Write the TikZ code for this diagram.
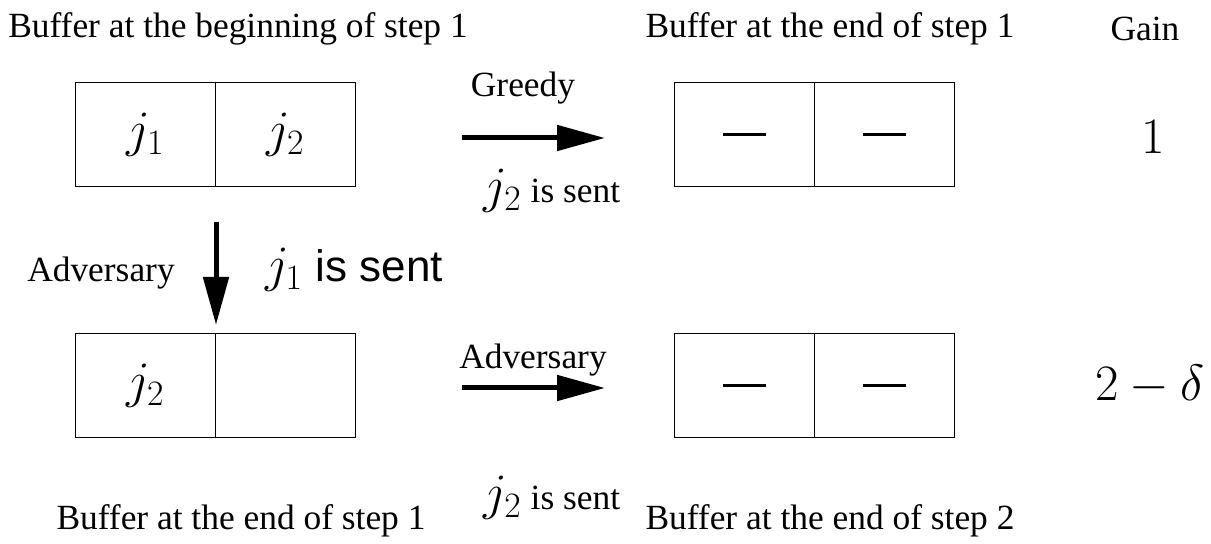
\RequirePackage{fix-cm}
\documentclass[tikz,border=0pt]{standalone}
\usepackage{fontspec}
\setmainfont{Liberation Serif}
\newfontfamily\helv{Liberation Sans}
\usetikzlibrary{arrows.meta}
\newcommand\bigmath{\fontsize{25.5pt}{28pt}\selectfont}
\newcommand\emptymark{\rule{21.5pt}{1.1pt}}
\begin{document}
\begin{tikzpicture}[x=0.5pt,y=-0.5pt,
  cell/.style={draw,line width=0.6pt,minimum width=70pt,minimum height=52pt,
    inner sep=0pt,anchor=north west,font=\bigmath},
  lbl/.style={inner sep=0pt,font=\fontsize{17.7pt}{20pt}\selectfont},
  mth/.style={inner sep=0pt,font=\bigmath},
  bigarrow/.style={line width=2.5pt,-{Triangle[length=24pt,width=12.5pt]}}]
\useasboundingbox (0,0) rectangle (1211,544);

% column headings
\node[lbl] (h1) at (238,29) {Buffer at the beginning of step 1};
\node[lbl] (h2) at (830,29) {Buffer at the end of step 1};
\node[lbl] (h3) at (1145,29) {Gain};

% buffer before step 1
\node[cell] (a1) at (75,82) {$j_1$};
\node[cell] (a2) at (215,82) {$j_2$};

% buffer after the greedy step
\node[cell] (b1) at (674,82) {\emptymark};
\node[cell] (b2) at (814,82) {\emptymark};
\node[mth] (g1) at (1153,137) {$1$};

% greedy move
\coordinate (gs) at (462,138);
\coordinate (ge) at (605,138);
\draw[bigarrow] (gs) -- (ge);
\node[lbl] (greedy) at (523,88) {Greedy};
\node[lbl] (gsent) at (552,191) {{\bigmath$j_2$} is sent};

% adversary move downwards
\coordinate (ds) at (216,222);
\coordinate (de) at (216,325);
\draw[bigarrow] (ds) -- (de);
\node[lbl] (adv1) at (101,273) {Adversary};
\node[mth] (asent) at (354,270) {$j_1$ {\helv\fontsize{22pt}{24pt}\selectfont is sent}};

% buffer after the adversary's first move
\node[cell] (c1) at (75,333) {$j_2$};
\node[cell] (c2) at (215,333) {};

% buffer after step 2
\node[cell] (d1) at (674,333) {\emptymark};
\node[cell] (d2) at (814,333) {\emptymark};
\node[mth] (g2) at (1150,385) {$2-\delta$};

% adversary move to the right
\coordinate (rs) at (462,388);
\coordinate (re) at (605,388);
\draw[bigarrow] (rs) -- (re);
\node[lbl] (adv2) at (533,360) {Adversary};
\node[lbl] (rsent) at (552,498) {{\bigmath$j_2$} is sent};

% row captions
\node[lbl] (f1) at (241,521) {Buffer at the end of step 1};
\node[lbl] (f2) at (830,521) {Buffer at the end of step 2};
\end{tikzpicture}
\end{document}
